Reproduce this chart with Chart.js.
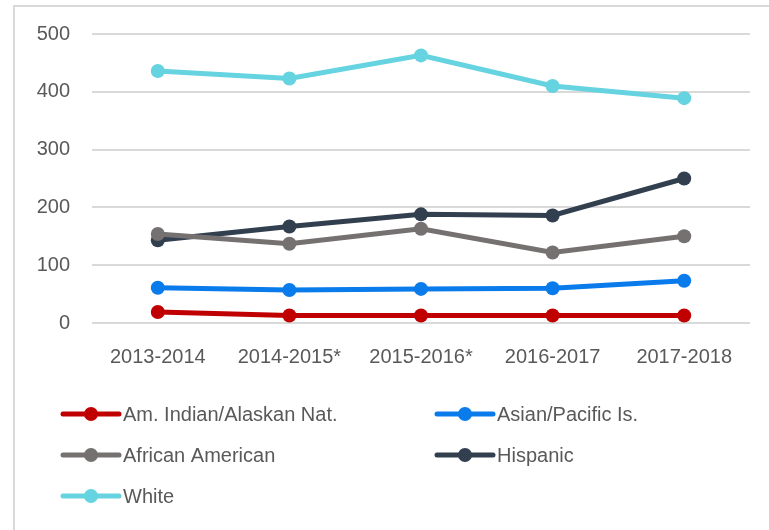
<!DOCTYPE html>
<html>
<head>
<meta charset="utf-8">
<script src="https://cdn.jsdelivr.net/npm/chart.js@4/dist/chart.umd.min.js"></script>
<style>
  html, body { margin: 0; padding: 0; background: #fff; overflow: hidden; }
  #frame { position: absolute; left: 13px; top: 5px; width: 800px; height: 600px; border: 2px solid #d9d9d9; }
  #wrap { position: absolute; left: 0; top: 0; width: 769px; height: 530px; }
</style>
</head>
<body>
<div id="frame"></div>
<div id="wrap"><canvas id="myChart"></canvas></div>
<script>
'use strict';

var years = ['2013-2014', '2014-2015*', '2015-2016*', '2016-2017', '2017-2018'];
var amIndian = [19, 13, 13, 13, 13];
var asian = [61, 57, 59, 60, 73];
var african = [154, 137, 163, 122, 150];
var hispanic = [143, 167, 188, 186, 250];
var white = [436, 423, 463, 410, 389];
var yTicks = [0, 100, 200, 300, 400, 500];

var names = ['Am. Indian/Alaskan Nat.', 'Asian/Pacific Is.', 'African American', 'Hispanic', 'White'];
var colors = ['#C00000', '#0A7BEB', '#767171', '#323F4F', '#66D3E0'];
var series = [amIndian, asian, african, hispanic, white];

var font = 'Liberation Sans, Arial, sans-serif';
var textColor = '#595959';

var datasets = [];
for (var i = 0; i < series.length; i++) {
  datasets.push({
    label: names[i],
    data: series[i],
    borderColor: colors[i],
    backgroundColor: colors[i],
    borderWidth: 5,
    pointRadius: 7,
    pointHoverRadius: 7,
    pointBorderWidth: 0,
    tension: 0
  });
}

// legend drawn in two columns like the original
var gridLegend = {
  id: 'gridLegend',
  afterDraw: function(chart) {
    var ctx = chart.ctx;
    var colX = [63, 437];
    var rowY = [414, 455, 496];
    ctx.save();
    ctx.font = '20px ' + font;
    ctx.textBaseline = 'middle';
    ctx.textAlign = 'left';
    chart.data.datasets.forEach(function(ds, k) {
      var x = colX[k % 2];
      var y = rowY[Math.floor(k / 2)];
      ctx.strokeStyle = ds.borderColor;
      ctx.lineWidth = 5;
      ctx.lineCap = 'round';
      ctx.beginPath();
      ctx.moveTo(x, y);
      ctx.lineTo(x + 56, y);
      ctx.stroke();
      ctx.fillStyle = ds.borderColor;
      ctx.beginPath();
      ctx.arc(x + 28, y, 7, 0, Math.PI * 2);
      ctx.fill();
      ctx.fillStyle = textColor;
      ctx.fillText(ds.label, x + 60, y + 1);
    });
    ctx.restore();
  }
};

var ctx = document.getElementById('myChart').getContext('2d');
var chart = new Chart(ctx, {
  type: 'line',
  data: { labels: years, datasets: datasets },
  options: {
    responsive: true,
    maintainAspectRatio: false,
    animation: false,
    layout: { padding: { left: 0, right: 19, top: 26, bottom: 157 } },
    plugins: { legend: { display: false }, tooltip: { enabled: false } },
    scales: {
      x: {
        offset: true,
        grid: { display: false, drawTicks: false },
        border: { display: false },
        ticks: { color: textColor, font: { family: font, size: 20 }, padding: 22, maxRotation: 0 },
        afterFit: function(s) { s.height = 50; }
      },
      y: {
        min: 0,
        max: 500,
        afterBuildTicks: function(s) { s.ticks = yTicks.map(function(v) { return { value: v }; }); },
        grid: { color: '#D9D9D9', lineWidth: 2, drawTicks: false },
        border: { display: false },
        ticks: { color: textColor, font: { family: font, size: 20 }, padding: 22 },
        afterFit: function(s) { s.width = 92; }
      }
    }
  },
  plugins: [gridLegend]
});
</script>
</body>
</html>
